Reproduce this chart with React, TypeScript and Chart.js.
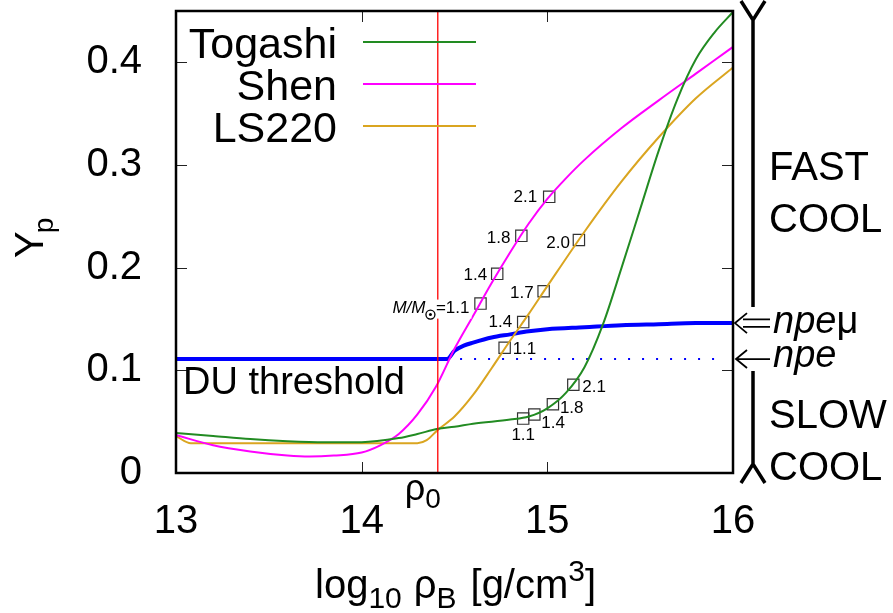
import React, { useEffect, useRef } from 'react';
import { Chart, registerables } from 'chart.js';

Chart.register(...registerables);

// ---------- data ----------
const xTickValues = [13, 14, 15, 16];
const yTickValues = [0, 0.1, 0.2, 0.3, 0.4];
const X_MIN = 13;
const X_MAX = 16;
const Y_MIN = 0;
const Y_MAX = 0.45;

const togashiX = [13.0, 13.2, 13.4, 13.6, 13.8, 14.0, 14.2, 14.3, 14.41, 14.5, 14.6, 14.8, 14.9, 15.0, 15.1, 15.2, 15.3, 15.4, 15.5, 15.6, 15.7, 15.8, 15.9, 16.0];
const togashiY = [0.039, 0.036, 0.033, 0.031, 0.030, 0.030, 0.034, 0.038, 0.043, 0.045, 0.048, 0.052, 0.055, 0.063, 0.078, 0.103, 0.145, 0.200, 0.257, 0.314, 0.364, 0.403, 0.429, 0.449];

const shenX = [13.0, 13.2, 13.4, 13.6, 13.72, 13.85, 14.0, 14.1, 14.2, 14.3, 14.4, 14.5, 14.6, 14.7, 14.8, 14.9, 15.0, 15.1, 15.2, 15.4, 15.6, 15.8, 16.0];
const shenY = [0.037, 0.027, 0.021, 0.017, 0.016, 0.017, 0.020, 0.027, 0.038, 0.057, 0.084, 0.121, 0.153, 0.185, 0.215, 0.243, 0.267, 0.287, 0.305, 0.336, 0.363, 0.389, 0.415];

const ls220X = [13.0, 13.08, 13.5, 14.0, 14.3, 14.35, 14.41, 14.5, 14.6, 14.7, 14.8, 14.9, 15.0, 15.2, 15.4, 15.6, 15.8, 16.0];
const ls220Y = [0.036, 0.029, 0.029, 0.029, 0.029, 0.032, 0.042, 0.055, 0.076, 0.102, 0.129, 0.155, 0.182, 0.235, 0.284, 0.327, 0.365, 0.395];

const npemuX = [13.0, 14.46, 14.5, 14.55, 14.6, 14.7, 14.8, 14.9, 15.0, 15.2, 15.4, 15.6, 15.8, 16.0];
const npemuY = [0.111, 0.111, 0.119, 0.124, 0.127, 0.132, 0.135, 0.138, 0.140, 0.142, 0.144, 0.145, 0.146, 0.146];

const npeX = [14.53, 15.96];
const npeY = [0.111, 0.111];

const rho0 = 14.41;
const rhoLineY = [0, 0.45];

const shenMassX = [14.64, 14.73, 14.86, 15.01];
const shenMassY = [0.165, 0.194, 0.231, 0.269];
const shenMassLabels = ['1.1', '1.4', '1.8', '2.1'];

const ls220MassX = [14.77, 14.87, 14.98, 15.17];
const ls220MassY = [0.122, 0.147, 0.177, 0.227];
const ls220MassLabels = ['1.1', '1.4', '1.7', '2.0'];

const togashiMassX = [14.87, 14.93, 15.03, 15.14];
const togashiMassY = [0.053, 0.057, 0.067, 0.086];
const togashiMassLabels = ['1.1', '1.4', '1.8', '2.1'];

const legendNames = ['Togashi', 'Shen', 'LS220'];

// ---------- style ----------
const FONT = "'Liberation Sans', Arial, Helvetica, sans-serif";
const GREEN = '#228b22';
const MAGENTA = '#ff00ff';
const GOLD = '#daa520';
const BLUE = '#0000ff';
const RED = '#ff0000';
const legendColors = [GREEN, MAGENTA, GOLD];

// label placements [dx, dy, align]
const shenLabelPos: [number, number, CanvasTextAlign][] = [[-11, 5, 'right'], [-10, 1, 'right'], [-11, 2, 'right'], [-12, 0, 'right']];
const ls220LabelPos: [number, number, CanvasTextAlign][] = [[8, 2, 'left'], [-11, 0, 'right'], [-10, 2, 'right'], [-9, 3, 'right']];
const togashiLabelPos: [number, number, CanvasTextAlign][] = [[0, 17, 'center'], [7, 9, 'left'], [7, 4, 'left'], [9, 3, 'left']];

const pts = (xs: number[], ys: number[]) => xs.map((x, i) => ({ x, y: ys[i] }));

const lineDs = (label: string, data: any[], color: string, width: number, extra: any = {}) => ({
  label,
  data,
  showLine: true,
  borderColor: color,
  backgroundColor: color,
  borderWidth: width,
  pointRadius: 0,
  pointHoverRadius: 0,
  tension: 0,
  ...extra,
});

const markDs = (label: string, data: any[]) => ({
  label,
  data,
  showLine: false,
  pointStyle: 'rect',
  pointRadius: 8,
  pointHoverRadius: 8,
  borderColor: '#333',
  borderWidth: 1.2,
  backgroundColor: 'rgba(0,0,0,0)',
});

const decor = {
  id: 'decor',
  afterDatasetsDraw(chart: any) {
    const ctx: CanvasRenderingContext2D = chart.ctx;
    const { left, right, top, bottom } = chart.chartArea;
    const xs = chart.scales.x;
    const ys = chart.scales.y;
    ctx.save();

    // inward ticks (all four sides)
    ctx.strokeStyle = '#222';
    ctx.lineWidth = 1;
    const TL = 11;
    ctx.beginPath();
    xTickValues.forEach((v) => {
      const px = Math.round(xs.getPixelForValue(v)) + 0.5;
      ctx.moveTo(px, bottom);
      ctx.lineTo(px, bottom - TL);
      ctx.moveTo(px, top);
      ctx.lineTo(px, top + TL);
    });
    yTickValues.forEach((v) => {
      const py = Math.round(ys.getPixelForValue(v)) + 0.5;
      ctx.moveTo(left, py);
      ctx.lineTo(left + TL, py);
      ctx.moveTo(right, py);
      ctx.lineTo(right - TL, py);
    });
    ctx.stroke();

    // border
    ctx.strokeStyle = '#000';
    ctx.lineWidth = 2.5;
    ctx.strokeRect(left, top, right - left, bottom - top);

    // legend
    ctx.font = `43px ${FONT}`;
    ctx.textAlign = 'right';
    ctx.textBaseline = 'alphabetic';
    legendNames.forEach((name, i) => {
      const y = top + 31 + i * 42;
      ctx.fillStyle = '#000';
      ctx.fillText(name, left + 161, y + 15.5);
      ctx.strokeStyle = legendColors[i];
      ctx.lineWidth = 2;
      ctx.beginPath();
      ctx.moveTo(left + 187, y);
      ctx.lineTo(left + 300, y);
      ctx.stroke();
    });

    // DU threshold
    ctx.font = `38px ${FONT}`;
    ctx.fillStyle = '#000';
    ctx.textAlign = 'left';
    ctx.fillText('DU threshold', left + 7, ys.getPixelForValue(0.111) + 35);

    // mass labels
    const groups = [
      { idx: 6, labels: shenMassLabels, pos: shenLabelPos, prefix: 0 },
      { idx: 7, labels: ls220MassLabels, pos: ls220LabelPos, prefix: -1 },
      { idx: 8, labels: togashiMassLabels, pos: togashiLabelPos, prefix: -1 },
    ];
    groups.forEach((g) => {
      const meta = chart.getDatasetMeta(g.idx);
      meta.data.forEach((el: any, j: number) => {
        const [dx, dy, align] = g.pos[j];
        const px = el.x + dx;
        const py = el.y + dy;
        ctx.textBaseline = 'middle';
        if (j === g.prefix) {
          ctx.font = `17px ${FONT}`;
          const wNum = ctx.measureText('=' + g.labels[j]).width;
          ctx.font = `italic 17px ${FONT}`;
          const wM = ctx.measureText('M/M').width;
          const r = 4.5;
          const sunCx = px - wNum - r - 1;
          const mEnd = sunCx - r - 0.5;
          const x0 = mEnd - wM - 2;
          ctx.fillStyle = '#fff';
          ctx.fillRect(x0, py - 9, px + 2 - x0, 19);
          ctx.fillStyle = '#000';
          ctx.textAlign = 'right';
          ctx.font = `17px ${FONT}`;
          ctx.fillText('=' + g.labels[j], px, py);
          ctx.font = `italic 17px ${FONT}`;
          ctx.fillText('M/M', mEnd, py);
          ctx.strokeStyle = '#000';
          ctx.lineWidth = 1.3;
          ctx.beginPath();
          ctx.arc(sunCx, py + 6, r, 0, Math.PI * 2);
          ctx.stroke();
          ctx.beginPath();
          ctx.arc(sunCx, py + 6, 1.5, 0, Math.PI * 2);
          ctx.fill();
        } else {
          ctx.font = `17px ${FONT}`;
          ctx.fillStyle = '#000';
          ctx.textAlign = align;
          ctx.fillText(g.labels[j], px, py);
        }
      });
    });

    // rho0 label
    const rx = xs.getPixelForValue(rho0);
    ctx.textAlign = 'left';
    ctx.textBaseline = 'alphabetic';
    ctx.fillStyle = '#000';
    ctx.font = `36px ${FONT}`;
    const wr = ctx.measureText('ρ').width;
    ctx.fillText('ρ', rx - 33, bottom + 27);
    ctx.font = `28px ${FONT}`;
    ctx.fillText('0', rx - 33 + wr, bottom + 35);

    // right-side annotations
    const bx = right + 20;
    ctx.strokeStyle = '#000';
    ctx.lineWidth = 3.5;
    ctx.lineCap = 'butt';
    ctx.beginPath();
    ctx.moveTo(bx, 19);
    ctx.lineTo(bx, 307);
    ctx.moveTo(bx - 12, 1);
    ctx.lineTo(bx, 20);
    ctx.lineTo(bx + 12, 1);
    ctx.moveTo(bx, 371);
    ctx.lineTo(bx, 464);
    ctx.moveTo(bx - 12, 483);
    ctx.lineTo(bx, 464);
    ctx.lineTo(bx + 12, 483);
    ctx.stroke();

    ctx.font = `40px ${FONT}`;
    ctx.fillText('FAST', right + 36, 180);
    ctx.fillText('COOL', right + 36, 232);
    ctx.fillText('SLOW', right + 36, 428);
    ctx.fillText('COOL', right + 36, 480);

    // arrows
    const yMu = ys.getPixelForValue(npemuY[npemuY.length - 1]);
    const yE = ys.getPixelForValue(npeY[0]);
    ctx.lineWidth = 1.8;
    ctx.beginPath();
    ctx.moveTo(right + 10, yMu - 3.7);
    ctx.lineTo(right + 37, yMu - 3.7);
    ctx.moveTo(right + 10, yMu + 3.7);
    ctx.lineTo(right + 37, yMu + 3.7);
    ctx.moveTo(right + 14, yMu - 10);
    ctx.lineTo(right + 2, yMu);
    ctx.lineTo(right + 14, yMu + 10);
    ctx.moveTo(right + 3, yE);
    ctx.lineTo(right + 37, yE);
    ctx.moveTo(right + 14, yE - 9);
    ctx.lineTo(right + 3, yE);
    ctx.lineTo(right + 14, yE + 9);
    ctx.stroke();

    ctx.font = `italic 38px ${FONT}`;
    const wnpe = ctx.measureText('npe').width;
    ctx.fillText('npe', right + 40, yMu + 10);
    ctx.font = `38px ${FONT}`;
    ctx.fillText('μ', right + 40 + wnpe, yMu + 10);
    ctx.font = `italic 38px ${FONT}`;
    ctx.fillText('npe', right + 40, yE + 8);

    // x-axis title: log10 rhoB [g/cm3]
    let tx = 315;
    const tb = 598;
    const seg = (t: string, size: number, dy: number) => {
      ctx.font = `${size}px ${FONT}`;
      ctx.fillText(t, tx, tb + dy);
      tx += ctx.measureText(t).width;
    };
    seg('log', 40, 0);
    seg('10', 30, 10);
    tx += 12;
    seg('ρ', 40, 0);
    seg('B', 30, 10);
    tx += 14;
    seg('[g/cm', 40, 0);
    seg('3', 30, -17);
    seg(']', 40, 0);

    // y-axis title: Yp (rotated)
    ctx.save();
    ctx.translate(43, 258);
    ctx.rotate(-Math.PI / 2);
    ctx.font = `40px ${FONT}`;
    const wY = ctx.measureText('Y').width;
    ctx.fillText('Y', 0, 0);
    ctx.font = `28px ${FONT}`;
    ctx.fillText('p', wY - 2, 10);
    ctx.restore();

    ctx.restore();
  },
};

export default function App() {
  const ref = useRef<HTMLCanvasElement | null>(null);

  useEffect(() => {
    document.body.style.margin = '0';
    if (!ref.current) return;
    const smooth = { cubicInterpolationMode: 'monotone' };
    const chart = new Chart(ref.current, {
      type: 'scatter',
      data: {
        datasets: [
          lineDs('rho0', pts([rho0, rho0], rhoLineY), RED, 1.3),
          lineDs('Togashi', pts(togashiX, togashiY), GREEN, 2, smooth),
          lineDs('Shen', pts(shenX, shenY), MAGENTA, 2, smooth),
          lineDs('LS220', pts(ls220X, ls220Y), GOLD, 2, smooth),
          lineDs('npe', pts(npeX, npeY), BLUE, 2, { borderDash: [2, 12] }),
          lineDs('npe mu', pts(npemuX, npemuY), BLUE, 4, smooth),
          markDs('Shen masses', pts(shenMassX, shenMassY)),
          markDs('LS220 masses', pts(ls220MassX, ls220MassY)),
          markDs('Togashi masses', pts(togashiMassX, togashiMassY)),
        ] as any,
      },
      options: {
        animation: false,
        responsive: false,
        maintainAspectRatio: false,
        events: [],
        layout: { padding: { top: 11, right: 160, left: 0, bottom: 0 } },
        plugins: { legend: { display: false }, tooltip: { enabled: false } },
        scales: {
          x: {
            type: 'linear',
            min: X_MIN,
            max: X_MAX,
            grid: { display: false },
            border: { display: false },
            ticks: {
              font: { size: 40, family: FONT },
              color: '#000',
              padding: 17,
              maxRotation: 0,
              autoSkip: false,
            },
            afterBuildTicks: (s: any) => {
              s.ticks = xTickValues.map((v) => ({ value: v }));
            },
            afterFit: (s: any) => {
              s.height = 140;
              s.paddingLeft = 0;
              s.paddingRight = 0;
            },
          },
          y: {
            type: 'linear',
            min: Y_MIN,
            max: Y_MAX,
            grid: { display: false },
            border: { display: false },
            ticks: {
              font: { size: 40, family: FONT },
              color: '#000',
              padding: 26,
              autoSkip: false,
              callback: (v: any) => (Number(v) === 0 ? '0' : Number(v).toFixed(1)),
            },
            afterBuildTicks: (s: any) => {
              s.ticks = yTickValues.map((v) => ({ value: v }));
            },
            afterFit: (s: any) => {
              s.width = 176;
              s.paddingTop = 0;
              s.paddingBottom = 0;
            },
          },
        },
      } as any,
      plugins: [decor],
    });
    return () => chart.destroy();
  }, []);

  return (
    <div style={{ width: 893, height: 613, background: '#fff' }}>
      <canvas ref={ref} width={893} height={613} style={{ display: 'block', width: 893, height: 613 }} />
    </div>
  );
}
